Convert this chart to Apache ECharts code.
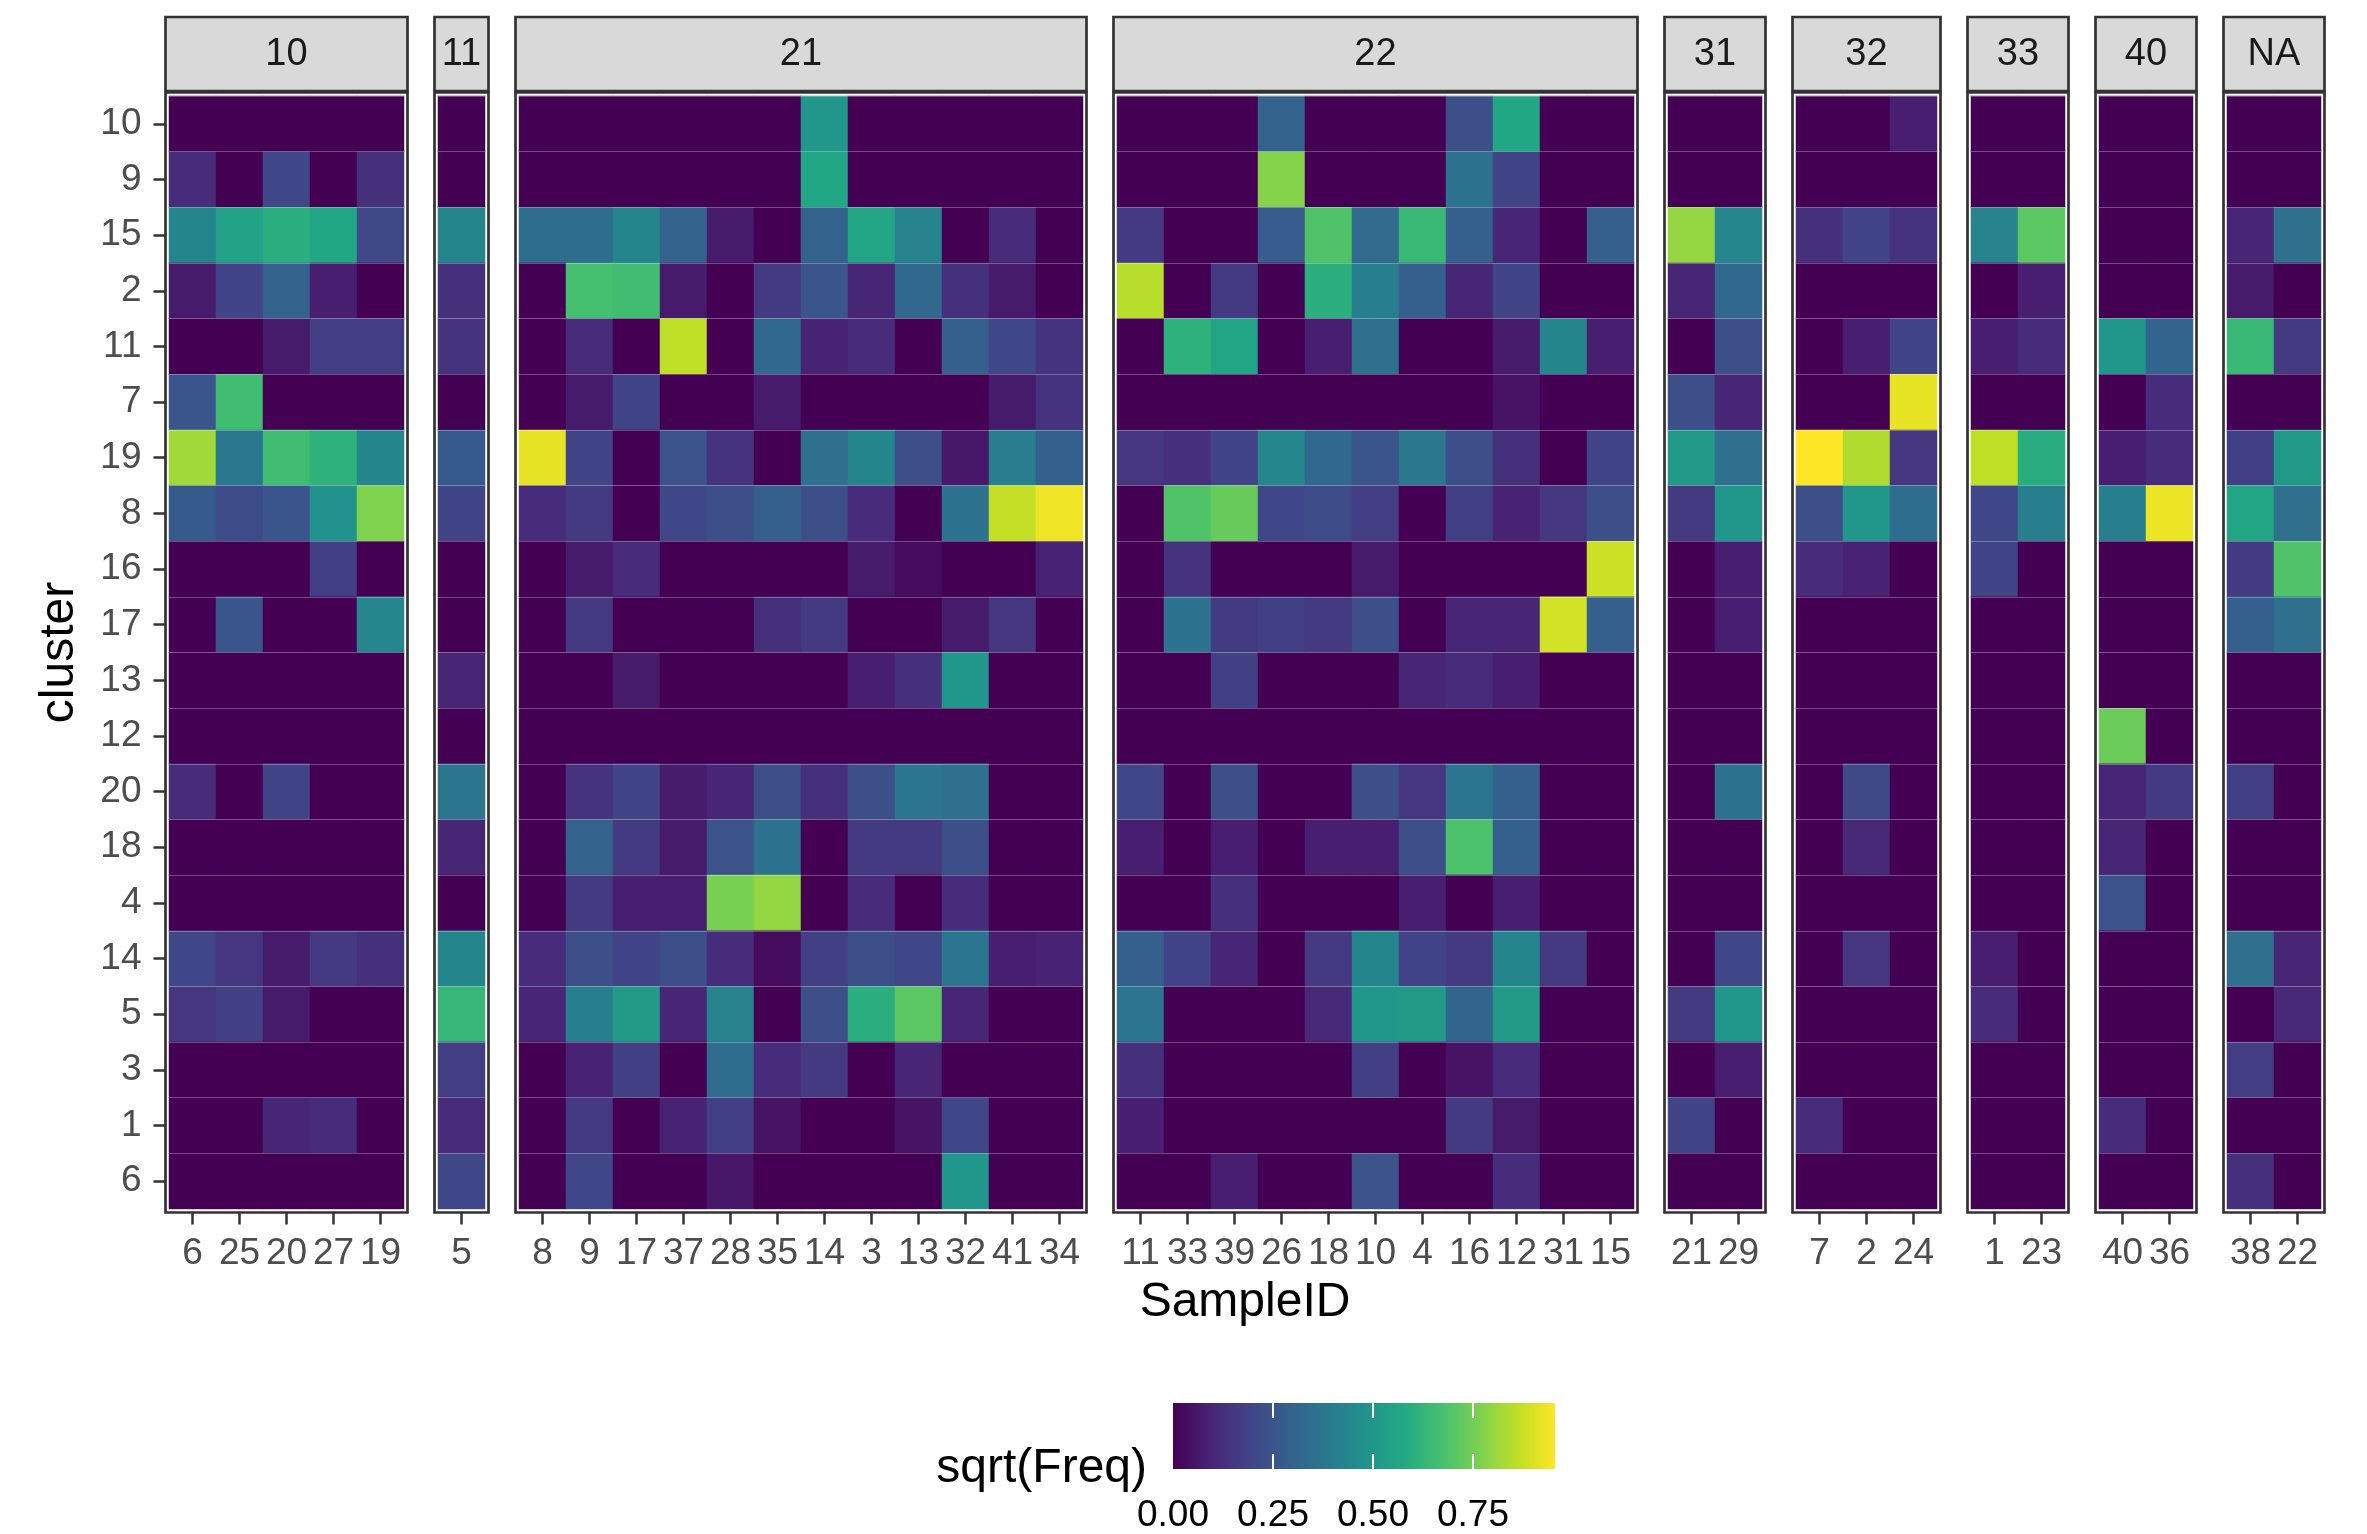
<!DOCTYPE html>
<html><head><meta charset="utf-8">
<script src="https://cdn.jsdelivr.net/npm/echarts@6/dist/echarts.min.js"></script>
<style>html,body{margin:0;padding:0;background:#fff}#c{width:2367px;height:1534px}</style>
</head><body><div id="c"></div>
<script>
// ---------------- DATA ----------------
const clusters = ['10','9','15','2','11','7','19','8','16','17','13','12','20','18','4','14','5','3','1','6'];
const facets = ['10','11','21','22','31','32','33','40','NA'];

const samples10 = ['6','25','20','27','19'];
const samples11 = ['5'];
const samples21 = ['8','9','17','37','28','35','14','3','13','32','41','34'];
const samples22 = ['11','33','39','26','18','10','4','16','12','31','15'];
const samples31 = ['21','29'];
const samples32 = ['7','2','24'];
const samples33 = ['1','23'];
const samples40 = ['40','36'];
const samplesNA = ['38','22'];

// sqrt(Freq), one row per cluster (same order as `clusters`), one column per sample
const vals10 = [
 [0,0,0,0,0],[0.12,0,0.2,0,0.13],[0.43,0.55,0.6,0.57,0.21],[0.07,0.19,0.3,0.08,0],
 [0,0,0.07,0.17,0.17],[0.25,0.66,0,0,0],[0.82,0.38,0.66,0.61,0.43],[0.27,0.22,0.25,0.48,0.77],
 [0,0,0,0.18,0],[0,0.25,0,0,0.44],[0,0,0,0,0],[0,0,0,0,0],[0.12,0,0.19,0,0],[0,0,0,0,0],
 [0,0,0,0,0],[0.2,0.15,0.07,0.16,0.13],[0.15,0.18,0.07,0,0],[0,0,0,0,0],[0,0,0.1,0.12,0],[0,0,0,0,0]
];
const vals11 = [[0],[0],[0.43],[0.13],[0.14],[0],[0.27],[0.19],[0],[0],[0.1],[0],[0.37],[0.1],[0],[0.43],[0.63],[0.17],[0.12],[0.2]];
const vals21 = [
 [0,0,0,0,0,0,0.5,0,0,0,0,0],
 [0,0,0,0,0,0,0.57,0,0,0,0,0],
 [0.34,0.34,0.43,0.3,0.07,0,0.3,0.56,0.42,0,0.12,0],
 [0,0.67,0.66,0.07,0,0.16,0.25,0.1,0.32,0.13,0.07,0],
 [0,0.12,0,0.86,0,0.32,0.09,0.12,0,0.29,0.2,0.14],
 [0,0.07,0.19,0,0,0.07,0,0,0,0,0.07,0.14],
 [0.92,0.19,0,0.24,0.14,0,0.35,0.43,0.23,0.06,0.4,0.29],
 [0.12,0.16,0,0.2,0.23,0.29,0.23,0.12,0,0.36,0.87,0.935],
 [0,0.07,0.12,0,0,0,0,0.07,0.03,0,0,0.09],
 [0,0.16,0,0,0,0.13,0.16,0,0,0.07,0.15,0],
 [0,0,0.07,0,0,0,0,0.08,0.13,0.5,0,0],
 [0,0,0,0,0,0,0,0,0,0,0,0],
 [0,0.14,0.19,0.07,0.1,0.23,0.13,0.23,0.37,0.35,0,0],
 [0,0.3,0.16,0.07,0.24,0.36,0,0.16,0.16,0.23,0,0],
 [0,0.16,0.08,0.08,0.76,0.8,0,0.12,0,0.12,0,0],
 [0.12,0.23,0.19,0.23,0.12,0.03,0.18,0.23,0.2,0.37,0.08,0.09],
 [0.1,0.41,0.52,0.1,0.42,0,0.23,0.6,0.71,0.1,0,0],
 [0,0.09,0.18,0,0.34,0.12,0.16,0,0.1,0,0,0],
 [0,0.16,0,0.09,0.18,0.05,0,0,0.05,0.2,0,0],
 [0,0.2,0,0,0.06,0,0,0,0,0.5,0,0]
];
const vals22 = [
 [0,0,0,0.3,0,0,0,0.23,0.57,0,0],
 [0,0,0,0.78,0,0,0,0.36,0.19,0,0],
 [0.16,0,0,0.28,0.69,0.33,0.64,0.29,0.1,0,0.29],
 [0.85,0,0.16,0,0.6,0.41,0.29,0.1,0.19,0,0],
 [0,0.61,0.56,0,0.08,0.35,0,0,0.07,0.43,0.08],
 [0,0,0,0,0,0,0,0,0.05,0,0],
 [0.15,0.13,0.19,0.44,0.32,0.25,0.38,0.23,0.13,0,0.19],
 [0,0.69,0.73,0.2,0.22,0.17,0,0.18,0.09,0.15,0.23],
 [0,0.14,0,0,0,0.07,0,0,0,0,0.88],
 [0,0.36,0.16,0.18,0.16,0.23,0,0.1,0.1,0.89,0.29],
 [0,0,0.18,0,0,0,0.1,0.12,0.08,0,0],
 [0,0,0,0,0,0,0,0,0,0,0],
 [0.2,0,0.23,0,0,0.23,0.15,0.37,0.29,0,0],
 [0.08,0,0.08,0,0.08,0.08,0.23,0.68,0.29,0,0],
 [0,0,0.13,0,0,0,0.08,0,0.08,0,0],
 [0.29,0.19,0.1,0,0.16,0.43,0.19,0.16,0.43,0.16,0],
 [0.37,0,0,0,0.11,0.5,0.52,0.31,0.52,0,0],
 [0.13,0,0,0,0,0.18,0,0.05,0.12,0,0],
 [0.08,0,0,0,0,0,0,0.16,0.07,0,0],
 [0,0,0.08,0,0,0.24,0,0,0.12,0,0]
];
const vals31 = [[0,0],[0,0],[0.8,0.44],[0.1,0.32],[0,0.23],[0.23,0.1],[0.51,0.35],[0.16,0.5],[0,0.08],[0,0.08],
 [0,0],[0,0],[0,0.36],[0,0],[0,0],[0,0.2],[0.16,0.5],[0,0.08],[0.19,0],[0,0]];
const vals32 = [[0,0,0.08],[0,0,0],[0.13,0.19,0.14],[0,0,0],[0,0.08,0.19],[0,0,0.92],[0.955,0.84,0.15],[0.23,0.5,0.34],
 [0.12,0.09,0],[0,0,0],[0,0,0],[0,0,0],[0,0.21,0],[0,0.11,0],[0,0,0],[0,0.15,0],[0,0,0],[0,0,0],[0.12,0,0],[0,0,0]];
const vals33 = [[0,0],[0,0],[0.42,0.71],[0,0.08],[0.08,0.12],[0,0],[0.86,0.59],[0.2,0.41],[0.19,0],[0,0],
 [0,0],[0,0],[0,0],[0,0],[0,0],[0.08,0],[0.12,0],[0,0],[0,0],[0,0]];
const vals40 = [[0,0],[0,0],[0,0],[0,0],[0.5,0.31],[0,0.12],[0.08,0.12],[0.41,0.93],[0,0],[0,0],
 [0,0],[0.74,0],[0.1,0.16],[0.1,0],[0.24,0],[0,0],[0,0],[0,0],[0.12,0],[0,0]];
const valsNA = [[0,0],[0,0],[0.1,0.35],[0.07,0],[0.64,0.16],[0,0],[0.18,0.51],[0.56,0.35],[0.16,0.69],[0.29,0.35],
 [0,0],[0,0],[0.18,0],[0,0],[0,0],[0.35,0.1],[0,0.11],[0.17,0],[0,0],[0.13,0]];

const legendBreaks = [0, 0.25, 0.5, 0.75];
const valueMin = 0, valueMax = 0.955;
const viridis = ['#440154','#482475','#414487','#355F8D','#2A788E','#21918C','#22A884','#44BF70','#7AD151','#BDDF26','#FDE725'];

// ---------------- LAYOUT ----------------
const sampleSets = [samples10,samples11,samples21,samples22,samples31,samples32,samples33,samples40,samplesNA];
const valueSets = [vals10,vals11,vals21,vals22,vals31,vals32,vals33,vals40,valsNA];
const FONT = "'Liberation Sans', Arial, Helvetica, sans-serif";
const COL_W = 47, GAP = 34, X0 = 169, TOP = 96, H = 1113, PAD = 3.5;
const BORDER = '#333333';

const grids = [], xAxes = [], yAxes = [], series = [], graphics = [];
const lefts = [];
let cur = X0;
sampleSets.forEach((s) => { lefts.push(cur); cur += s.length * COL_W + GAP; });
const endX = cur - GAP;

// data grids 0..8
sampleSets.forEach((s, i) => {
  const w = s.length * COL_W;
  grids.push({ left: lefts[i], top: TOP, width: w, height: H, show: false });
  xAxes.push({
    type: 'category', gridIndex: i, data: s, position: 'bottom', offset: PAD,
    axisLine: { show: false },
    axisTick: { show: true, alignWithLabel: true, length: 12, lineStyle: { color: BORDER, width: 2.5 } },
    axisLabel: { interval: 0, fontSize: 37, color: '#4D4D4D', fontFamily: FONT, margin: 23, hideOverlap: false },
    splitLine: { show: false }
  });
  yAxes.push({
    type: 'category', gridIndex: i, data: clusters, inverse: true, offset: PAD, z: 3,
    axisLine: { show: false },
    axisTick: { show: i === 0, alignWithLabel: true, length: 12, lineStyle: { color: BORDER, width: 2.5 } },
    axisLabel: { show: i === 0, interval: 0, fontSize: 37, color: '#4D4D4D', fontFamily: FONT, margin: 24 },
    splitLine: { show: true, lineStyle: { color: 'rgba(255,255,255,0.28)', width: 1 } }
  });
  const data = [];
  valueSets[i].forEach((row, r) => row.forEach((v, c) => data.push([c, r, v])));
  series.push({
    type: 'heatmap', xAxisIndex: i, yAxisIndex: i, data,
    itemStyle: { borderWidth: 0 }, emphasis: { disabled: true }, progressive: 0
  });
});

// frame grids 9..17
sampleSets.forEach((s, i) => {
  const w = s.length * COL_W;
  const gi = grids.length;
  grids.push({ left: lefts[i] - PAD, top: TOP - PAD, width: w + 2 * PAD, height: H + 2 * PAD,
    show: true, backgroundColor: '#ffffff', borderColor: BORDER, borderWidth: 2.7 });
  xAxes.push({ type: 'value', gridIndex: gi, show: false });
  yAxes.push({ type: 'value', gridIndex: gi, show: false });
  // strip
  graphics.push({
    type: 'rect', z: 10,
    shape: { x: lefts[i] - PAD, y: 17, width: w + 2 * PAD, height: 74 },
    style: { fill: '#D9D9D9', stroke: BORDER, lineWidth: 2.7 }
  });
  graphics.push({
    type: 'text', z: 11,
    style: { text: facets[i], x: lefts[i] + w / 2, y: 55, fill: '#1A1A1A', fontSize: 38, fontFamily: FONT,
      align: 'center', verticalAlign: 'middle' }
  });
});

// legend grid
const legendIdx = grids.length;
grids.push({
  left: 1173, top: 1403, width: 382, height: 76, show: true, borderWidth: 0,
  backgroundColor: new echarts.graphic.LinearGradient(0, 0, 1, 0,
    viridis.map((c, k) => ({ offset: k / (viridis.length - 1), color: c })))
});
const tickVals = legendBreaks.filter(v => v > valueMin);
xAxes.push({
  type: 'value', gridIndex: legendIdx, min: valueMin, max: valueMax, position: 'bottom', z: 5,
  axisLine: { show: false }, splitLine: { show: false },
  axisTick: { show: true, inside: true, length: 15, lineStyle: { color: '#ffffff', width: 2 }, customValues: tickVals },
  axisLabel: { customValues: legendBreaks, formatter: v => v.toFixed(2), fontSize: 37, color: '#000', fontFamily: FONT,
    margin: 14, padding: [14, 0, 0, 0], verticalAlign: 'top' },
  name: 'sqrt(Freq)', nameLocation: 'start', nameGap: 26,
  nameTextStyle: { fontSize: 48, color: '#000', fontFamily: FONT, padding: [0, 0, 0, 0] }
});
xAxes.push({
  type: 'value', gridIndex: legendIdx, min: valueMin, max: valueMax, position: 'top', z: 5,
  axisLine: { show: false }, splitLine: { show: false }, axisLabel: { show: false },
  axisTick: { show: true, inside: true, length: 15, lineStyle: { color: '#ffffff', width: 2 }, customValues: tickVals }
});
yAxes.push({ type: 'value', gridIndex: legendIdx, show: false });

// axis titles
graphics.push({
  type: 'text', z: 11,
  style: { text: 'SampleID', x: (X0 + endX) / 2, y: 1303, fill: '#000', fontSize: 48, fontFamily: FONT,
    align: 'center', verticalAlign: 'middle' }
});
graphics.push({
  type: 'text', z: 11, x: 60, y: TOP + H / 2, rotation: Math.PI / 2,
  style: { text: 'cluster', x: 0, y: 0, fill: '#000', fontSize: 48, fontFamily: FONT,
    align: 'center', verticalAlign: 'middle' }
});

const chart = echarts.init(document.getElementById('c'), null, { renderer: 'canvas' });
chart.setOption({
  animation: false,
  backgroundColor: '#ffffff',
  textStyle: { fontFamily: FONT },
  grid: grids, xAxis: xAxes, yAxis: yAxes,
  visualMap: {
    type: 'continuous', show: false, min: valueMin, max: valueMax, dimension: 2,
    seriesIndex: series.map((_, k) => k), inRange: { color: viridis }
  },
  series, graphic: graphics
});
</script></body></html>
